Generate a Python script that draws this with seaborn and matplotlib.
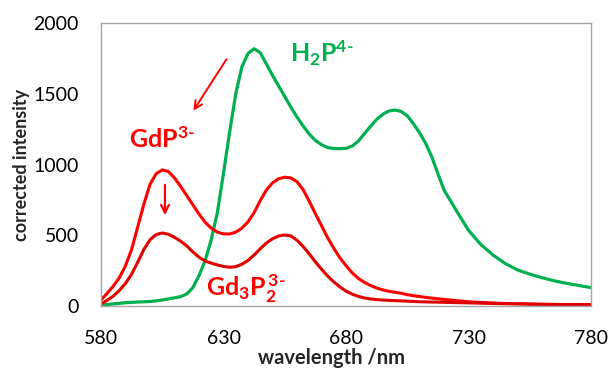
import matplotlib
matplotlib.use("Agg")
import matplotlib.pyplot as plt
import seaborn as sns
import pandas as pd

# wavelength grid (nm)
wavelength = [580, 582.5, 585, 587.5, 590, 592.5, 595, 597.5, 600, 602.5,
              605, 607.5, 610, 612.5, 615, 617.5, 620, 622.5, 625, 627.5,
              630, 632.5, 635, 637.5, 640, 642.5, 645, 647.5, 650, 652.5,
              655, 657.5, 660, 662.5, 665, 667.5, 670, 672.5, 675, 677.5,
              680, 682.5, 685, 687.5, 690, 692.5, 695, 697.5, 700, 702.5,
              705, 707.5, 710, 712.5, 715, 717.5, 720,
              725, 730, 735, 740, 745, 750, 755, 760, 765, 770, 775, 780]

h2p = [5, 10, 15, 19, 23, 26, 28, 30, 32, 36,
       42, 50, 58, 66, 85, 130, 215, 320, 470, 660,
       940, 1230, 1500, 1690, 1785, 1818, 1790, 1710, 1630, 1555,
       1480, 1405, 1335, 1272, 1215, 1170, 1140, 1120, 1113, 1112,
       1114, 1130, 1165, 1218, 1270, 1318, 1355, 1378, 1385, 1375,
       1345, 1288, 1225, 1150, 1055, 935, 820,
       675, 535, 435, 360, 300, 255, 225, 200, 178, 160, 145, 130]

gdp = [42, 90, 140, 200, 285, 400, 560, 720, 860, 935,
       962, 950, 905, 845, 780, 715, 650, 592, 550, 522,
       510, 509, 522, 550, 595, 660, 745, 820, 870, 900,
       910, 905, 878, 822, 740, 652, 568, 482, 408, 340,
       285, 235, 195, 167, 145, 127, 114, 104, 97, 90,
       80, 73, 67, 61, 56, 51, 47,
       38, 30, 25, 21, 18, 16, 14, 12, 11, 10, 10, 10]

gd3p2 = [14, 40, 70, 110, 160, 225, 310, 400, 468, 505,
         516, 507, 485, 458, 425, 382, 345, 318, 303, 290,
         280, 274, 278, 295, 322, 360, 405, 445, 475, 495,
         502, 495, 465, 420, 368, 312, 260, 212, 170, 135,
         105, 84, 68, 57, 50, 45, 42, 40, 38, 36,
         34, 32, 30, 29, 28, 27, 26,
         24, 22, 20, 18, 16, 15, 13, 12, 11, 10, 10, 10]

GREEN = "#00B050"
RED = "#FF0000"
DARKRED = "#E00000"
GREY = "#A6A6A6"

sns.set_style("white")
plt.rcParams['font.family'] = ['Lato', 'DejaVu Sans']
plt.rcParams['mathtext.fontset'] = 'custom'
plt.rcParams['mathtext.rm'] = 'Lato:bold'
plt.rcParams['mathtext.bf'] = 'Lato:bold'
plt.rcParams['mathtext.default'] = 'rm'

df = pd.DataFrame({'wavelength': wavelength, 'H2P': h2p, 'GdP': gdp, 'Gd3P2': gd3p2})

fig = plt.figure(figsize=(6.10, 3.71), dpi=100)
ax = fig.add_axes([0.1656, 0.1752, 0.8033, 0.7628])

sns.lineplot(data=df, x='wavelength', y='H2P', color=GREEN, linewidth=2.3, ax=ax)
sns.lineplot(data=df, x='wavelength', y='GdP', color=RED, linewidth=2.2, ax=ax)
sns.lineplot(data=df, x='wavelength', y='Gd3P2', color=DARKRED, linewidth=2.2, ax=ax)

ax.set_xlim(580, 780)
ax.set_ylim(0, 2000)
ax.set_xticks([580, 630, 680, 730, 780])
ax.set_yticks([0, 500, 1000, 1500, 2000])

for s in ax.spines.values():
    s.set_color(GREY)
    s.set_linewidth(1.0)
ax.tick_params(axis='both', direction='out', length=5, width=1, color=GREY,
               labelsize=14, labelcolor='black')
ax.tick_params(axis='x', pad=12)
ax.tick_params(axis='y', pad=11)

ax.set_xlabel("wavelength /nm", fontsize=14.5, fontweight='bold')
ax.set_ylabel("corrected intensity", fontsize=13, fontweight='bold')
ax.xaxis.set_label_coords(0.471, -0.150)
ax.yaxis.set_label_coords(-0.145, 0.5)

# labels
ax.text(657, 1724, r"$H_2P^{4\text{-}}$", color=GREEN, fontsize=18, va='baseline', ha='left')
ax.text(591.5, 1117, r"$GdP^{3\text{-}}$", color=RED, fontsize=18, va='baseline', ha='left')
ax.text(623, 64, r"$Gd_3P_2^{\,3\text{-}}$", color=RED, fontsize=18, va='baseline', ha='left')

# arrows
ax.annotate("", xy=(617.1, 1364), xytext=(631.8, 1760),
            arrowprops=dict(arrowstyle='->', color=RED, lw=1.4, mutation_scale=14))
ax.annotate("", xy=(606.1, 622), xytext=(606.1, 876),
            arrowprops=dict(arrowstyle='->', color=RED, lw=1.6, mutation_scale=14))

fig.savefig("out.png", dpi=100)
